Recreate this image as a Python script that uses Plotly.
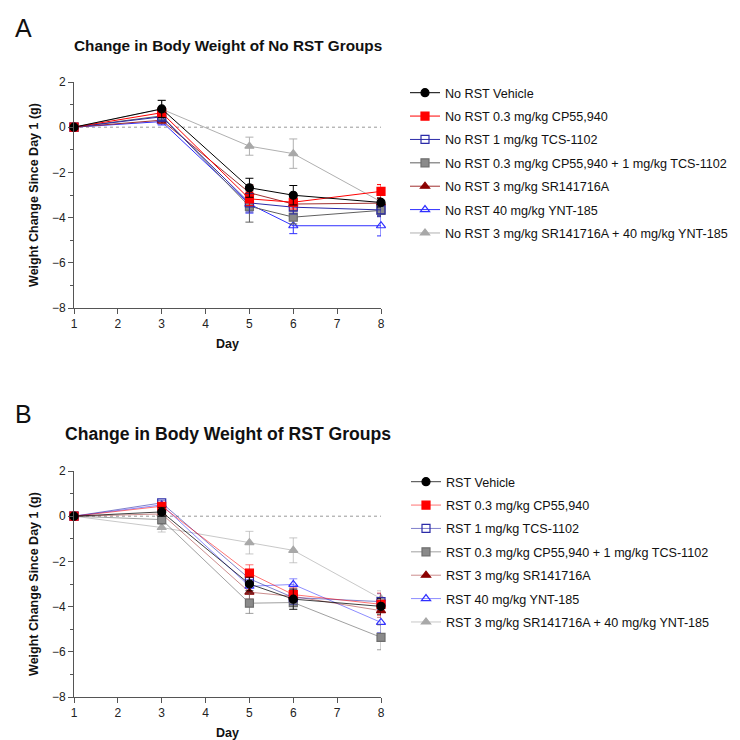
import plotly.graph_objects as go

days = [1, 3, 5, 6, 8]

series_names = [
    "Vehicle",
    "0.3 mg/kg CP55,940",
    "1 mg/kg TCS-1102",
    "0.3 mg/kg CP55,940 + 1 mg/kg TCS-1102",
    "3 mg/kg SR141716A",
    "40 mg/kg YNT-185",
    "3 mg/kg SR141716A + 40 mg/kg YNT-185",
]

# Panel A: No RST groups (mean, error)
noRST_vehicle = [0, 0.81, -2.68, -3.01, -3.33]
noRST_vehicle_err = [0, 0.38, 0.42, 0.43, 0.2]
noRST_cp = [0, 0.64, -3.17, -3.32, -2.84]
noRST_cp_err = [0, 0.2, 0.3, 0.3, 0.3]
noRST_tcs = [0, 0.46, -3.35, -3.54, -3.66]
noRST_tcs_err = [0, 0.2, 0.4, 0.3, 0.3]
noRST_cp_tcs = [0, 0.5, -3.5, -3.98, -3.68]
noRST_cp_tcs_err = [0, 0.2, 0.7, 0.3, 0.25]
noRST_sr = [0, 0.31, -2.9, -3.4, -3.36]
noRST_sr_err = [0, 0.15, 0.35, 0.3, 0.2]
noRST_ynt = [0, 0.25, -3.4, -4.36, -4.36]
noRST_ynt_err = [0, 0.15, 0.4, 0.35, 0.45]
noRST_sr_ynt = [0, 0.8, -0.84, -1.17, -3.3]
noRST_sr_ynt_err = [0, 0.38, 0.4, 0.65, 0.4]

# Panel B: RST groups
RST_vehicle = [0, 0.19, -3.0, -3.67, -3.99]
RST_vehicle_err = [0, 0.2, 0.3, 0.45, 0.35]
RST_cp = [0, 0.44, -2.52, -3.47, -3.9]
RST_cp_err = [0, 0.15, 0.37, 0.3, 0.5]
RST_tcs = [0, 0.59, -2.77, -3.6, -3.78]
RST_tcs_err = [0, 0.1, 0.3, 0.3, 0.35]
RST_cp_tcs = [0, -0.15, -3.85, -3.82, -5.36]
RST_cp_tcs_err = [0, 0.2, 0.45, 0.3, 0.55]
RST_sr = [0, 0.1, -3.36, -3.55, -4.18]
RST_sr_err = [0, 0.2, 0.3, 0.3, 0.3]
RST_ynt = [0, 0.5, -3.1, -3.02, -4.7]
RST_ynt_err = [0, 0.1, 0.3, 0.25, 0.45]
RST_sr_ynt = [0, -0.5, -1.17, -1.51, -3.65]
RST_sr_ynt_err = [0, 0.2, 0.5, 0.55, 0.35]

yticks = [2, 0, -2, -4, -6, -8]
xticks = [1, 2, 3, 4, 5, 6, 7, 8]

FONT = "Arial, 'Liberation Sans', Helvetica, sans-serif"

# page body has an 8px margin; figure is sized to fit the window
OFF = 8
W = 740 - OFF


def px(x):
    return (x - OFF) / W


def py(y):
    return 1 - (y - OFF) / W


styles = [
    dict(sym="circle", mcol="#000000", lcol="#000000", lcolB="rgba(0,0,0,0.75)", fill="#000000"),
    dict(sym="square", mcol="#FF0000", lcol="#FF0000", lcolB="rgba(255,0,0,0.55)", fill="#FF0000"),
    dict(sym="square-open", mcol="#2B2BA8", lcol="#2B2BA8", lcolB="rgba(43,43,168,0.6)", fill="#2B2BA8"),
    dict(sym="square", mcol="#6E6E6E", lcol="#606060", lcolB="rgba(96,96,96,0.6)", fill="#8A8A8A"),
    dict(sym="triangle-up", mcol="#8B0000", lcol="#A03030", lcolB="rgba(160,48,48,0.55)", fill="#8B0000"),
    dict(sym="triangle-up-open", mcol="#3030FF", lcol="#3030FF", lcolB="rgba(48,48,255,0.55)", fill="#3030FF"),
    dict(sym="triangle-up", mcol="#A8A8A8", lcol="#B0B0B0", lcolB="rgba(176,176,176,0.7)", fill="#A8A8A8"),
]

panelA = [
    (noRST_vehicle, noRST_vehicle_err), (noRST_cp, noRST_cp_err), (noRST_tcs, noRST_tcs_err),
    (noRST_cp_tcs, noRST_cp_tcs_err), (noRST_sr, noRST_sr_err), (noRST_ynt, noRST_ynt_err),
    (noRST_sr_ynt, noRST_sr_ynt_err),
]
panelB = [
    (RST_vehicle, RST_vehicle_err), (RST_cp, RST_cp_err), (RST_tcs, RST_tcs_err),
    (RST_cp_tcs, RST_cp_tcs_err), (RST_sr, RST_sr_err), (RST_ynt, RST_ynt_err),
    (RST_sr_ynt, RST_sr_ynt_err),
]

fig = go.Figure()


def add_panel(data, prefix, xa, ya, legend, panel_b):
    order = list(range(len(data)))[::-1]  # draw vehicle on top
    for i in order:
        vals, errs = data[i]
        st = styles[i]
        lc = st["lcolB"] if panel_b else st["lcol"]
        fig.add_trace(go.Scatter(
            x=days, y=vals,
            mode="lines+markers",
            name=prefix + series_names[i],
            xaxis=xa, yaxis=ya,
            legend=legend,
            legendgroup=legend + str(i),
            legendrank=i + 1,
            line=dict(color=lc, width=1),
            marker=dict(symbol=st["sym"], size=8, color=st["fill"],
                        line=dict(color=st["mcol"], width=1.2)),
            error_y=dict(type="data", array=errs, visible=True,
                         color=lc, thickness=1, width=4),
            cliponaxis=False,
        ))


add_panel(panelA, "No RST ", "x", "y", "legend", False)
add_panel(panelB, "RST ", "x2", "y2", "legend2", True)

axis_common = dict(
    showline=True, linecolor="#555555", linewidth=1,
    ticks="outside", ticklen=5, tickcolor="#555555", tickwidth=1,
    showgrid=False, zeroline=False, automargin=False,
    tickfont=dict(family=FONT, size=12, color="#222222"),
)

xdom = [px(74), px(381)]
yA = [py(308), py(82)]
yB = [py(697), py(471)]

ytitle = dict(text="<b>Weight Change Since Day 1 (g)</b>", font=dict(size=12.5, family=FONT), standoff=10)
xtitle = dict(text="<b>Day</b>", font=dict(size=12.5, family=FONT), standoff=8)
minor_y = dict(ticks="outside", ticklen=3, dtick=1, tickcolor="#555555")

fig.update_layout(
    width=W, height=W,
    margin=dict(l=0, r=0, t=0, b=0, autoexpand=False),
    paper_bgcolor="white", plot_bgcolor="white",
    font=dict(family=FONT, color="#111111"),
    xaxis=dict(domain=xdom, range=[1, 8], tickvals=xticks, anchor="y", title=xtitle, **axis_common),
    yaxis=dict(domain=yA, range=[-8, 2], tickvals=yticks, anchor="x", minor=minor_y, title=ytitle, **axis_common),
    xaxis2=dict(domain=xdom, range=[1, 8], tickvals=xticks, anchor="y2", title=xtitle, **axis_common),
    yaxis2=dict(domain=yB, range=[-8, 2], tickvals=yticks, anchor="x2", minor=minor_y, title=ytitle, **axis_common),
    legend=dict(x=px(405), y=py(78), xanchor="left", yanchor="top",
                font=dict(family=FONT, size=12.6, color="#111111"),
                tracegroupgap=4, bgcolor="rgba(0,0,0,0)"),
    legend2=dict(x=px(406), y=py(467), xanchor="left", yanchor="top",
                 font=dict(family=FONT, size=12.6, color="#111111"),
                 tracegroupgap=4, bgcolor="rgba(0,0,0,0)"),
    showlegend=True,
)

# dotted zero reference lines
for xr, yr in [("x", "y"), ("x2", "y2")]:
    fig.add_shape(type="line", xref=xr, yref=yr, x0=1, x1=8, y0=0, y1=0,
                  line=dict(color="#999999", width=1, dash="dot"), layer="below")

# titles and panel letters
fig.add_annotation(text="<b>Change in Body Weight of No RST Groups</b>", xref="paper", yref="paper",
                   x=px(228), y=py(45), xanchor="center", yanchor="middle",
                   showarrow=False, font=dict(family=FONT, size=15.3, color="#111111"))
fig.add_annotation(text="<b>Change in Body Weight of RST Groups</b>", xref="paper", yref="paper",
                   x=px(228), y=py(434), xanchor="center", yanchor="middle",
                   showarrow=False, font=dict(family=FONT, size=17.6, color="#111111"))
fig.add_annotation(text="A", xref="paper", yref="paper", x=px(13), y=py(28),
                   xanchor="left", yanchor="middle", showarrow=False,
                   font=dict(family=FONT, size=25, color="#111111"))
fig.add_annotation(text="B", xref="paper", yref="paper", x=px(13), y=py(414),
                   xanchor="left", yanchor="middle", showarrow=False,
                   font=dict(family=FONT, size=25, color="#111111"))

fig.write_html("out.html")
